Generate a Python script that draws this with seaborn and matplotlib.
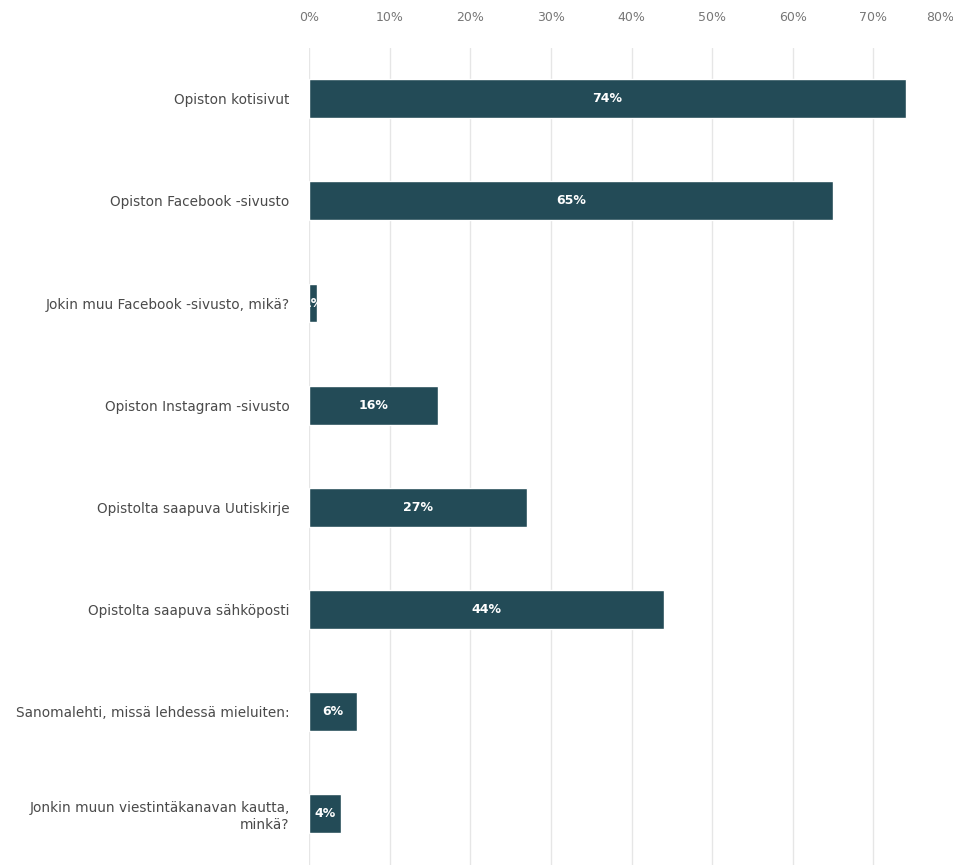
import matplotlib
matplotlib.use("Agg")
import matplotlib.pyplot as plt
import seaborn as sns
import pandas as pd

categories = [
    "Opiston kotisivut",
    "Opiston Facebook -sivusto",
    "Jokin muu Facebook -sivusto, mikä?",
    "Opiston Instagram -sivusto",
    "Opistolta saapuva Uutiskirje",
    "Opistolta saapuva sähköposti",
    "Sanomalehti, missä lehdessä mieluiten:",
    "Jonkin muun viestintäkanavan kautta,\nminkä?",
]
values = [74, 65, 1, 16, 27, 44, 6, 4]
tick_values = [0, 10, 20, 30, 40, 50, 60, 70, 80]
tick_labels = ["0%", "10%", "20%", "30%", "40%", "50%", "60%", "70%", "80%"]

df = pd.DataFrame({"cat": categories, "val": values})

sns.set_theme(style="white")
plt.rcParams["font.family"] = ["DejaVu Sans"]

fig = plt.figure(figsize=(9.54, 8.65), dpi=100)
ax = fig.add_axes([0.324, 0.0, 0.676, 0.945])

bar_color = "#234b57"
sns.barplot(data=df, x="val", y="cat", orient="h", color=bar_color,
            width=0.38, saturation=1, ax=ax, zorder=3)

ax.set_xlim(0, 80)
ax.set_ylim(len(categories) - 0.5, -0.5)
ax.set_xticks(tick_values)
ax.set_xticklabels(tick_labels)
ax.xaxis.tick_top()
ax.tick_params(axis="x", length=0, pad=17, labelsize=9, labelcolor="#777777")
ax.tick_params(axis="y", length=0, pad=14, labelsize=9.8, labelcolor="#4a4a4a")
for lbl in ax.get_yticklabels():
    lbl.set_horizontalalignment("right")
xl = ax.get_xticklabels()
xl[-1].set_horizontalalignment("right")
ax.grid(axis="x", color="#e6e6e6", linewidth=1, zorder=0)
ax.grid(axis="y", visible=False)
for s in ax.spines.values():
    s.set_visible(False)
ax.set_xlabel("")
ax.set_ylabel("")

for i, v in enumerate(values):
    ax.text(v / 2, i, f"{v}%", ha="center", va="center", color="white",
            fontsize=9, fontweight="bold", zorder=4)

fig.savefig("out.png", dpi=100)
